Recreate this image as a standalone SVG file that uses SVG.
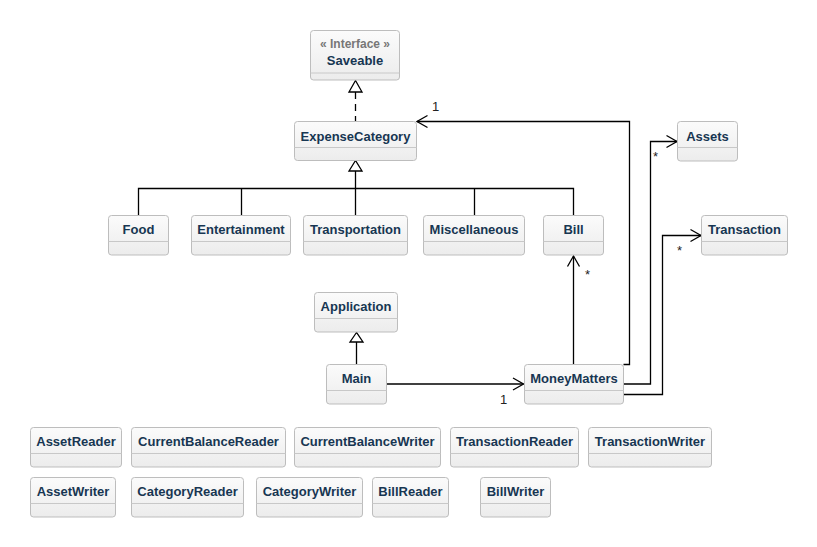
<svg xmlns="http://www.w3.org/2000/svg" width="817" height="547" viewBox="0 0 817 547">
  <style>
    .box { fill: url(#boxFill); stroke: #bdbdbd; stroke-width: 1; }
    .sep { stroke: #c8c8c8; stroke-width: 1; }
    .name { font-family: "Liberation Sans", Arial, sans-serif; font-size: 13px; font-weight: bold; fill: #173652; text-anchor: middle; }
    .stereo { font-family: "Liberation Sans", Arial, sans-serif; font-size: 12px; font-weight: bold; fill: #777777; text-anchor: middle; }
    .edge { fill: none; stroke: #000000; stroke-width: 1.3; }
    .dash { stroke-dasharray: 7 5; }
    .head { fill: none; stroke: #000000; stroke-width: 1.3; }
    .tri { fill: #ffffff; stroke: #000000; stroke-width: 1.3; }
    .mult { font-family: "Liberation Sans", Arial, sans-serif; font-size: 13px; fill: #222222; }
  </style>
  <defs>
    <linearGradient id="boxFill" x1="0" y1="0" x2="0" y2="1">
      <stop offset="0" stop-color="#fbfbfb"/>
      <stop offset="1" stop-color="#ececec"/>
    </linearGradient>
  </defs>
  <rect width="817" height="547" fill="#ffffff"/>

  <!-- connectors -->
  <g id="connectors">
    <!-- Saveable realisation -->
    <line class="edge dash" x1="355.5" y1="92" x2="355.5" y2="121.5"/>
    <polygon class="tri" points="355.5,80.5 349,92 362,92"/>
    <!-- ExpenseCategory generalisation tree -->
    <polyline class="edge" points="138.5,215 138.5,188.5 573.5,188.5 573.5,215"/>
    <line class="edge" x1="241.5" y1="188.5" x2="241.5" y2="215"/>
    <line class="edge" x1="474.5" y1="188.5" x2="474.5" y2="215"/>
    <line class="edge" x1="355.5" y1="171" x2="355.5" y2="215"/>
    <polygon class="tri" points="355.5,160.5 349,171 362,171"/>
    <!-- Main extends Application -->
    <line class="edge" x1="356.5" y1="342" x2="356.5" y2="364"/>
    <polygon class="tri" points="356.5,332.5 350,342 363,342"/>
    <!-- Main -> MoneyMatters -->
    <line class="edge" x1="386.5" y1="384" x2="523.5" y2="384"/>
    <polyline class="head" points="513,378 523.5,384 513,390"/>
    <text class="mult" x="500" y="404">1</text>
    <!-- MoneyMatters -> Bill -->
    <line class="edge" x1="573.5" y1="364" x2="573.5" y2="256"/>
    <polyline class="head" points="567.5,266.5 573.5,256 579.5,266.5"/>
    <text class="mult" x="585" y="279">*</text>
    <!-- MoneyMatters -> ExpenseCategory -->
    <polyline class="edge" points="623.5,364.5 629.5,364.5 629.5,121.5 417,121.5"/>
    <polyline class="head" points="427.5,115.5 417,121.5 427.5,127.5"/>
    <text class="mult" x="432" y="111">1</text>
    <!-- MoneyMatters -> Assets -->
    <polyline class="edge" points="623.5,384 650.5,384 650.5,141.5 677,141.5"/>
    <polyline class="head" points="666.5,135.5 677,141.5 666.5,147.5"/>
    <text class="mult" x="653" y="161">*</text>
    <!-- MoneyMatters -> Transaction -->
    <polyline class="edge" points="623.5,394.5 662.5,394.5 662.5,235.5 701,235.5"/>
    <polyline class="head" points="690.5,229.5 701,235.5 690.5,241.5"/>
    <text class="mult" x="677" y="255">*</text>
  </g>

  <!-- classes -->
  <g id="Saveable">
    <rect class="box" x="310.5" y="30.5" width="89" height="49.5" rx="3"/>
    <line class="sep" x1="310.5" y1="73" x2="399.5" y2="73"/>
    <text class="stereo" x="355" y="48">« Interface »</text>
    <text class="name" x="355" y="65">Saveable</text>
  </g>
  <g id="ExpenseCategory">
    <rect class="box" x="294.5" y="121.5" width="122" height="39" rx="3"/>
    <line class="sep" x1="294.5" y1="147.5" x2="416.5" y2="147.5"/>
    <text class="name" x="355.5" y="141">ExpenseCategory</text>
  </g>
  <g id="Food">
    <rect class="box" x="108.5" y="215.5" width="60" height="39.5" rx="3"/>
    <line class="sep" x1="108.5" y1="241.5" x2="168.5" y2="241.5"/>
    <text class="name" x="138.5" y="234">Food</text>
  </g>
  <g id="Entertainment">
    <rect class="box" x="191.5" y="215.5" width="99" height="39.5" rx="3"/>
    <line class="sep" x1="191.5" y1="241.5" x2="290.5" y2="241.5"/>
    <text class="name" x="241" y="234">Entertainment</text>
  </g>
  <g id="Transportation">
    <rect class="box" x="303.5" y="215.5" width="104" height="39.5" rx="3"/>
    <line class="sep" x1="303.5" y1="241.5" x2="407.5" y2="241.5"/>
    <text class="name" x="355.5" y="234">Transportation</text>
  </g>
  <g id="Miscellaneous">
    <rect class="box" x="423.5" y="215.5" width="101" height="39.5" rx="3"/>
    <line class="sep" x1="423.5" y1="241.5" x2="524.5" y2="241.5"/>
    <text class="name" x="474" y="234">Miscellaneous</text>
  </g>
  <g id="Bill">
    <rect class="box" x="543.5" y="215.5" width="60" height="39.5" rx="3"/>
    <line class="sep" x1="543.5" y1="241.5" x2="603.5" y2="241.5"/>
    <text class="name" x="573.5" y="234">Bill</text>
  </g>
  <g id="Assets">
    <rect class="box" x="677.5" y="121.5" width="60" height="39.5" rx="3"/>
    <line class="sep" x1="677.5" y1="147.5" x2="737.5" y2="147.5"/>
    <text class="name" x="707.5" y="141">Assets</text>
  </g>
  <g id="Transaction">
    <rect class="box" x="701.5" y="215.5" width="86" height="39.5" rx="3"/>
    <line class="sep" x1="701.5" y1="241.5" x2="787.5" y2="241.5"/>
    <text class="name" x="744.5" y="234">Transaction</text>
  </g>
  <g id="Application">
    <rect class="box" x="314.5" y="292.5" width="83" height="39.5" rx="3"/>
    <line class="sep" x1="314.5" y1="318.5" x2="397.5" y2="318.5"/>
    <text class="name" x="356" y="311">Application</text>
  </g>
  <g id="Main">
    <rect class="box" x="326.5" y="364.5" width="60" height="39.5" rx="3"/>
    <line class="sep" x1="326.5" y1="390.5" x2="386.5" y2="390.5"/>
    <text class="name" x="356.5" y="383">Main</text>
  </g>
  <g id="MoneyMatters">
    <rect class="box" x="524.5" y="364.5" width="99" height="39.5" rx="3"/>
    <line class="sep" x1="524.5" y1="390.5" x2="623.5" y2="390.5"/>
    <text class="name" x="574" y="383">MoneyMatters</text>
  </g>
  <g id="AssetReader">
    <rect class="box" x="30.5" y="427.5" width="91" height="39.5" rx="3"/>
    <line class="sep" x1="30.5" y1="453.5" x2="121.5" y2="453.5"/>
    <text class="name" x="76" y="446">AssetReader</text>
  </g>
  <g id="CurrentBalanceReader">
    <rect class="box" x="131.5" y="427.5" width="154" height="39.5" rx="3"/>
    <line class="sep" x1="131.5" y1="453.5" x2="285.5" y2="453.5"/>
    <text class="name" x="208.5" y="446">CurrentBalanceReader</text>
  </g>
  <g id="CurrentBalanceWriter">
    <rect class="box" x="294.5" y="427.5" width="146" height="39.5" rx="3"/>
    <line class="sep" x1="294.5" y1="453.5" x2="440.5" y2="453.5"/>
    <text class="name" x="367.5" y="446">CurrentBalanceWriter</text>
  </g>
  <g id="TransactionReader">
    <rect class="box" x="450.5" y="427.5" width="128" height="39.5" rx="3"/>
    <line class="sep" x1="450.5" y1="453.5" x2="578.5" y2="453.5"/>
    <text class="name" x="514.5" y="446">TransactionReader</text>
  </g>
  <g id="TransactionWriter">
    <rect class="box" x="588.5" y="427.5" width="123" height="39.5" rx="3"/>
    <line class="sep" x1="588.5" y1="453.5" x2="711.5" y2="453.5"/>
    <text class="name" x="650" y="446">TransactionWriter</text>
  </g>
  <g id="AssetWriter">
    <rect class="box" x="30.5" y="477.5" width="85" height="39.5" rx="3"/>
    <line class="sep" x1="30.5" y1="503.5" x2="115.5" y2="503.5"/>
    <text class="name" x="73" y="496">AssetWriter</text>
  </g>
  <g id="CategoryReader">
    <rect class="box" x="131.5" y="477.5" width="112" height="39.5" rx="3"/>
    <line class="sep" x1="131.5" y1="503.5" x2="243.5" y2="503.5"/>
    <text class="name" x="187.5" y="496">CategoryReader</text>
  </g>
  <g id="CategoryWriter">
    <rect class="box" x="256.5" y="477.5" width="106" height="39.5" rx="3"/>
    <line class="sep" x1="256.5" y1="503.5" x2="362.5" y2="503.5"/>
    <text class="name" x="309.5" y="496">CategoryWriter</text>
  </g>
  <g id="BillReader">
    <rect class="box" x="372.5" y="477.5" width="76" height="39.5" rx="3"/>
    <line class="sep" x1="372.5" y1="503.5" x2="448.5" y2="503.5"/>
    <text class="name" x="410.5" y="496">BillReader</text>
  </g>
  <g id="BillWriter">
    <rect class="box" x="480.5" y="477.5" width="70" height="39.5" rx="3"/>
    <line class="sep" x1="480.5" y1="503.5" x2="550.5" y2="503.5"/>
    <text class="name" x="515.5" y="496">BillWriter</text>
  </g>
</svg>
